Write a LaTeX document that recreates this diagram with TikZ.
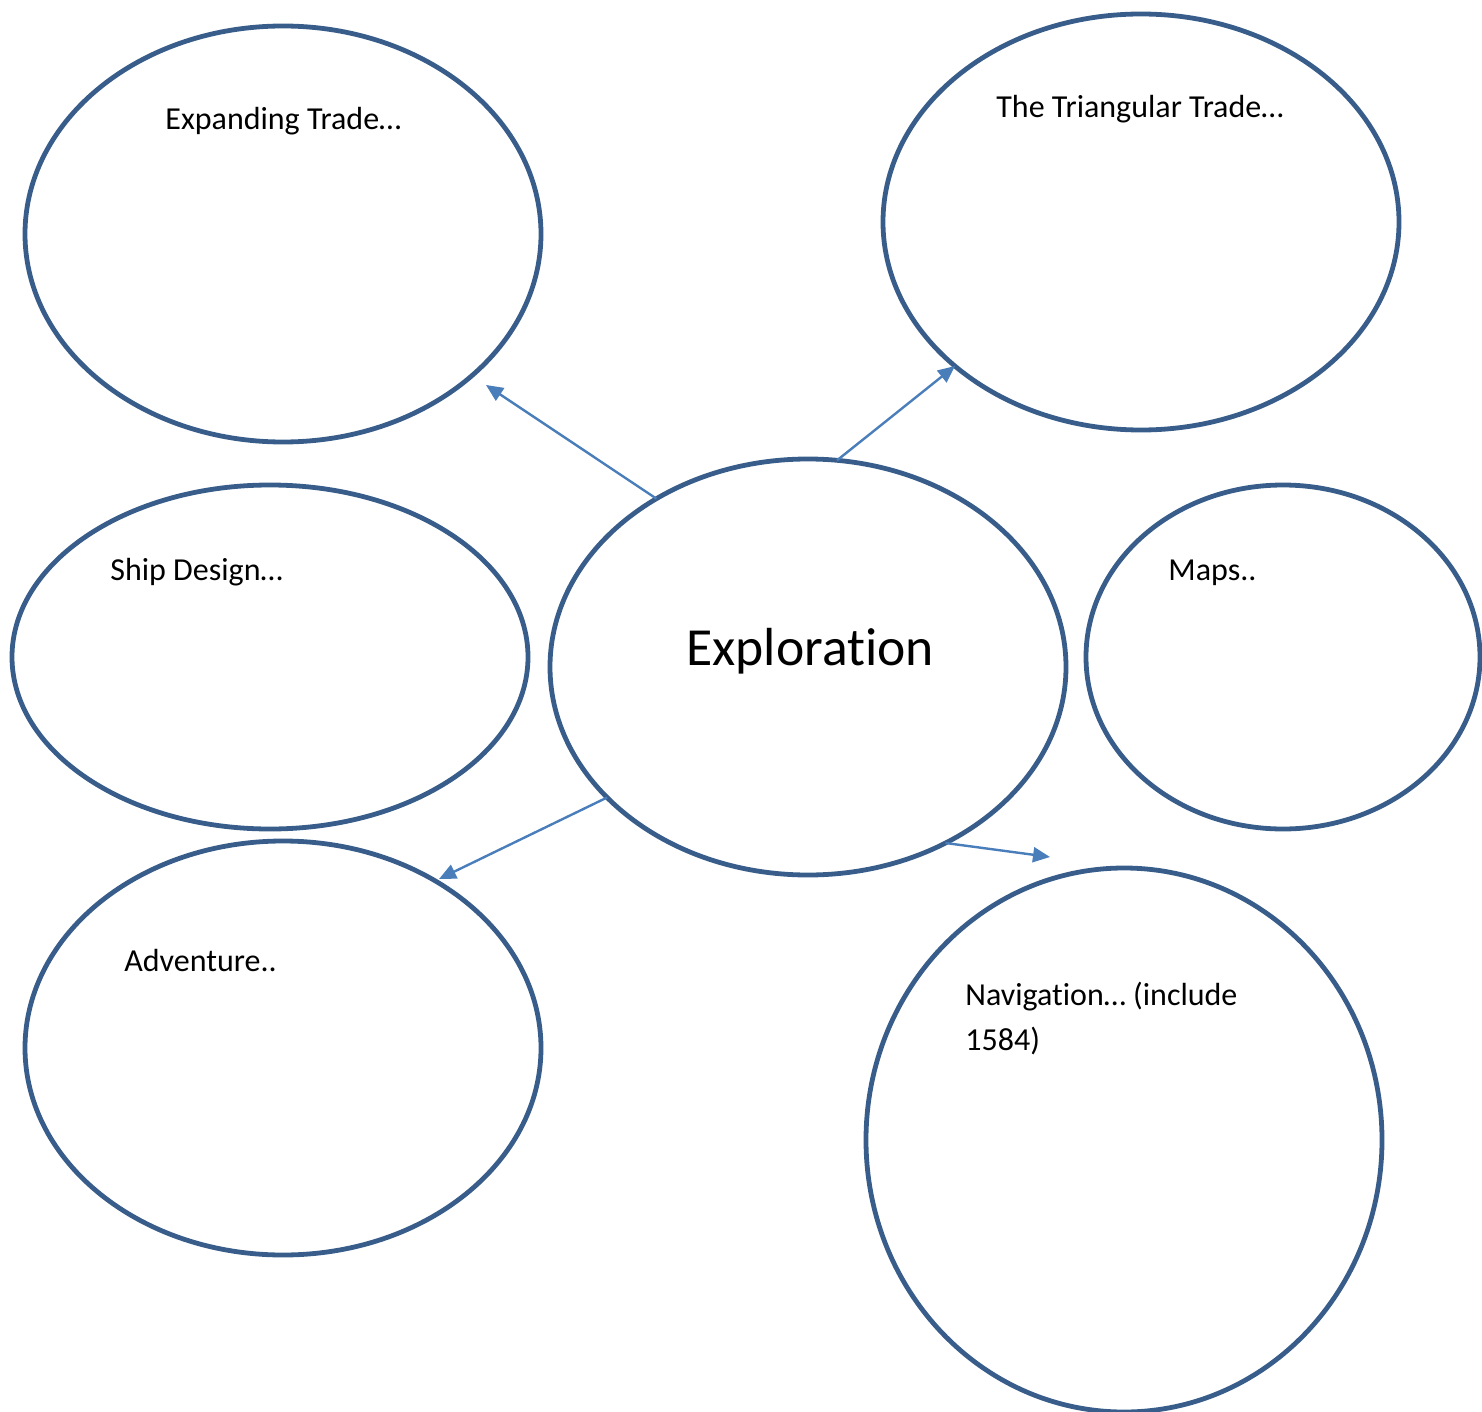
\documentclass[tikz,border=0pt]{standalone}
\usepackage{fontspec}
\setmainfont[Ligatures=NoCommon]{Carlito}
\usetikzlibrary{shapes.geometric,arrows.meta}
\definecolor{ringblue}{HTML}{385D8A}
\definecolor{arrowblue}{HTML}{4A7EBB}
\begin{document}
\begin{tikzpicture}[x=0.5pt,y=-0.5pt,
  ring/.style={ellipse,draw=ringblue,line width=2.4pt,inner sep=0pt,outer sep=0pt},
  lbl/.style={anchor=base west,inner sep=0pt,font=\fontsize{16}{19}\selectfont},
  link/.style={draw=arrowblue,line width=1.2pt,-{Triangle[length=8.5pt,width=7.5pt]}}]
\useasboundingbox (0,0) rectangle (1482,1412);
\node[ring,minimum width=258pt,minimum height=208pt] (trade) at (283,234) {};
\node[ring,minimum width=258pt,minimum height=208pt] (tri) at (1141,222) {};
\node[ring,minimum width=258pt,minimum height=172pt] (ship) at (270,657) {};
\node[ring,minimum width=258pt,minimum height=208pt] (ex) at (808,667) {};
\node[ring,minimum width=197pt,minimum height=172pt] (maps) at (1283,657) {};
\node[ring,minimum width=258pt,minimum height=207pt] (adv) at (283,1048) {};
\node[ring,minimum width=258pt,minimum height=272pt] (nav) at (1124,1140) {};
\node[lbl] (ltrade) at (165,130) {Expanding Trade…};
\node[lbl] (ltri) at (996,118) {The Triangular Trade…};
\node[lbl] (lship) at (110,580) {Ship Design…};
\node[lbl] (lmaps) at (1168,580) {Maps..};
\node[lbl,font=\fontsize{26.8}{31}\selectfont] (lex) at (686,665) {Exploration};
\node[lbl] (ladv) at (124,971) {Adventure..};
\node[lbl] (lnav) at (965,1005) {Navigation… (include};
\node[lbl] (lnav2) at (965,1050) {1584)};
\coordinate (t1) at (486,385);
\coordinate (t2) at (955,366);
\coordinate (t3) at (439,879);
\coordinate (t4) at (1050,857);
\draw[link] (ex.132.5) -- (t1);
\draw[link] (ex.82) -- (t2);
\draw[link] (ex.213.2) -- (t3);
\draw[link] (ex.308.5) -- (t4);
\end{tikzpicture}
\end{document}
